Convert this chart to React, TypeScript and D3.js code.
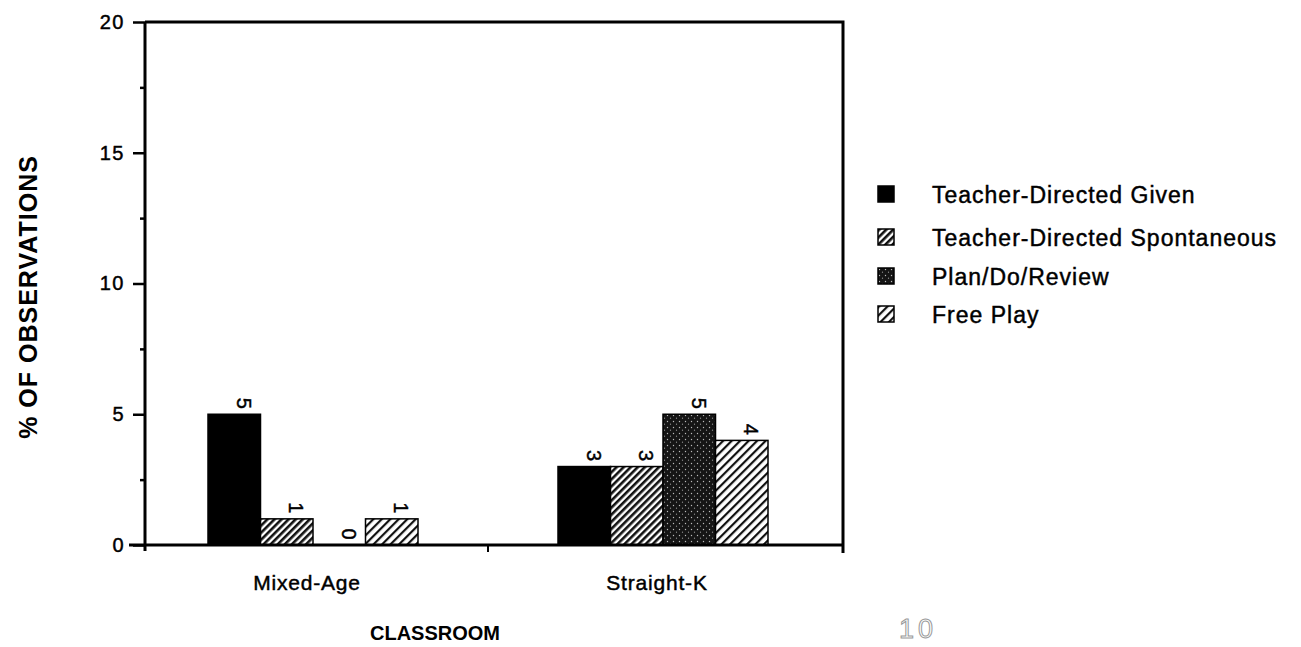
import * as d3 from "d3";
import React, { useRef, useEffect } from "react";

const classrooms = ["Mixed-Age", "Straight-K"];
const activities = [
  "Teacher-Directed Given",
  "Teacher-Directed Spontaneous",
  "Plan/Do/Review",
  "Free Play",
];
// % of observations, one array per activity, in classroom order
const given = [5, 3];
const spontaneous = [1, 3];
const planDoReview = [0, 5];
const freePlay = [1, 4];
const yTicks = [0, 5, 10, 15, 20];
const yMinorTicks = [2.5, 7.5, 12.5, 17.5];

const seriesValues = [given, spontaneous, planDoReview, freePlay];
const fills = ["#000", "url(#hatchDense)", "url(#stipple)", "url(#hatchLight)"];

const App: React.FC = () => {
  const svgRef = useRef<SVGSVGElement>(null);

  useEffect(() => {
    if (!svgRef.current) return;
    const svg = d3.select(svgRef.current);
    svg.selectAll("*").remove();

    const left = 145;
    const right = 843;
    const top = 22;
    const bottom = 545;
    const font = "'Liberation Sans', Arial, Helvetica, sans-serif";

    const defs = svg.append("defs");
    const dense = defs
      .append("pattern")
      .attr("id", "hatchDense")
      .attr("patternUnits", "userSpaceOnUse")
      .attr("width", 5)
      .attr("height", 5)
      .attr("patternTransform", "rotate(45)");
    dense.append("rect").attr("width", 5).attr("height", 5).attr("fill", "#fff");
    dense.append("rect").attr("width", 2.6).attr("height", 5).attr("fill", "#111");

    const light = defs
      .append("pattern")
      .attr("id", "hatchLight")
      .attr("patternUnits", "userSpaceOnUse")
      .attr("width", 6)
      .attr("height", 6)
      .attr("patternTransform", "rotate(45)");
    light.append("rect").attr("width", 6).attr("height", 6).attr("fill", "#fff");
    light.append("rect").attr("width", 2.2).attr("height", 6).attr("fill", "#111");

    const stip = defs
      .append("pattern")
      .attr("id", "stipple")
      .attr("patternUnits", "userSpaceOnUse")
      .attr("width", 6)
      .attr("height", 6);
    stip.append("rect").attr("width", 6).attr("height", 6).attr("fill", "#151515");
    stip.append("circle").attr("cx", 1.5).attr("cy", 1.5).attr("r", 0.7).attr("fill", "#bbb");
    stip.append("circle").attr("cx", 4.5).attr("cy", 4.2).attr("r", 0.6).attr("fill", "#999");

    const x0 = d3.scaleBand<string>().domain(classrooms).range([138, 838]);
    const x1 = d3
      .scaleBand<string>()
      .domain(activities)
      .range([0, 210]);
    const y = d3.scaleLinear().domain([0, 20]).range([bottom, top]);

    // helper for the heavy, slightly spaced typewriter-ish look of the scan
    const heavy = (sel: any, size: number, spacing: number) =>
      sel
        .attr("font-family", font)
        .attr("font-size", size)
        .attr("letter-spacing", spacing)
        .attr("fill", "#000")
        .attr("stroke", "#000")
        .attr("stroke-width", 0.45);

    // bars
    classrooms.forEach((c, ci) => {
      const gx = (x0(c) as number) + x0.bandwidth() / 2 - 105;
      activities.forEach((a, ai) => {
        const v = seriesValues[ai][ci];
        const bx = gx + (x1(a) as number);
        if (v > 0) {
          svg
            .append("rect")
            .attr("x", bx)
            .attr("y", y(v))
            .attr("width", x1.bandwidth())
            .attr("height", y(0) - y(v))
            .attr("fill", fills[ai])
            .attr("stroke", "#000")
            .attr("stroke-width", 1.5);
        }
        const lx = bx + x1.bandwidth() / 2 + 8;
        const ly = y(v) - 11;
        heavy(
          svg
            .append("text")
            .attr("transform", `translate(${lx},${ly}) rotate(90)`)
            .attr("text-anchor", "middle")
            .attr("dominant-baseline", "middle"),
          20,
          0
        ).text(v);
      });
    });

    // frame
    const frame = svg.append("g").attr("stroke", "#000").attr("fill", "none");
    frame
      .append("path")
      .attr("d", `M${left},${top}H${right}V${bottom + 8}`)
      .attr("stroke-width", 3);
    frame
      .append("line")
      .attr("x1", left)
      .attr("x2", left)
      .attr("y1", top)
      .attr("y2", bottom + 6)
      .attr("stroke-width", 3);
    frame
      .append("line")
      .attr("x1", left - 16)
      .attr("x2", right)
      .attr("y1", bottom)
      .attr("y2", bottom)
      .attr("stroke-width", 3);
    frame
      .append("line")
      .attr("x1", (x0("Straight-K") as number))
      .attr("x2", (x0("Straight-K") as number))
      .attr("y1", bottom)
      .attr("y2", bottom + 7)
      .attr("stroke-width", 2);

    // y axis
    const yAxis = svg
      .append("g")
      .attr("transform", `translate(${left},0)`)
      .call(d3.axisLeft(y).tickValues(yTicks).tickSize(12).tickPadding(8));
    yAxis.select(".domain").remove();
    yAxis.selectAll("line").attr("stroke-width", 2.5);
    heavy(yAxis.selectAll("text"), 20, 1.5);
    svg
      .append("g")
      .attr("transform", `translate(${left},0)`)
      .call(d3.axisLeft(y).tickValues(yMinorTicks).tickSize(5).tickFormat(() => ""))
      .call((g) => g.select(".domain").remove())
      .selectAll("line")
      .attr("stroke-width", 2.5);

    // category labels
    heavy(
      svg
        .append("g")
        .selectAll("text")
        .data(classrooms)
        .join("text")
        .attr("x", (d) => (x0(d) as number) + x0.bandwidth() / 2 - 6)
        .attr("y", 590)
        .attr("text-anchor", "middle"),
      21,
      0.8
    ).text((d: string) => d);

    svg
      .append("text")
      .attr("x", 435)
      .attr("y", 640)
      .attr("text-anchor", "middle")
      .attr("font-family", font)
      .attr("font-weight", "bold")
      .attr("font-size", 20)
      .text("CLASSROOM");

    svg
      .append("text")
      .attr("transform", "translate(37,297) rotate(-90)")
      .attr("text-anchor", "middle")
      .attr("font-family", font)
      .attr("font-weight", "bold")
      .attr("font-size", 25)
      .attr("letter-spacing", 1)
      .text("% OF OBSERVATIONS");

    // page number
    svg
      .append("text")
      .attr("x", 918)
      .attr("y", 638)
      .attr("text-anchor", "middle")
      .attr("font-family", font)
      .attr("font-size", 27)
      .attr("letter-spacing", 4)
      .attr("fill", "#fff")
      .attr("stroke", "#999")
      .attr("stroke-width", 1)
      .text("10");

    // legend
    const legend = svg
      .append("g")
      .selectAll("g")
      .data(activities)
      .join("g")
      .attr("transform", (_, i) => `translate(878,${[186, 229, 268, 306][i]})`);
    legend
      .append("rect")
      .attr("width", 16)
      .attr("height", 16)
      .attr("fill", (_, i) => fills[i])
      .attr("stroke", "#000")
      .attr("stroke-width", 1.5);
    heavy(legend.append("text").attr("x", 54).attr("y", 17), 23, 1).text((d: string) => d);
  }, []);

  return (
    <svg
      ref={svgRef}
      width={1301}
      height={647}
      style={{ position: "absolute", left: 0, top: 0, background: "#fff" }}
    ></svg>
  );
};

export default App;
